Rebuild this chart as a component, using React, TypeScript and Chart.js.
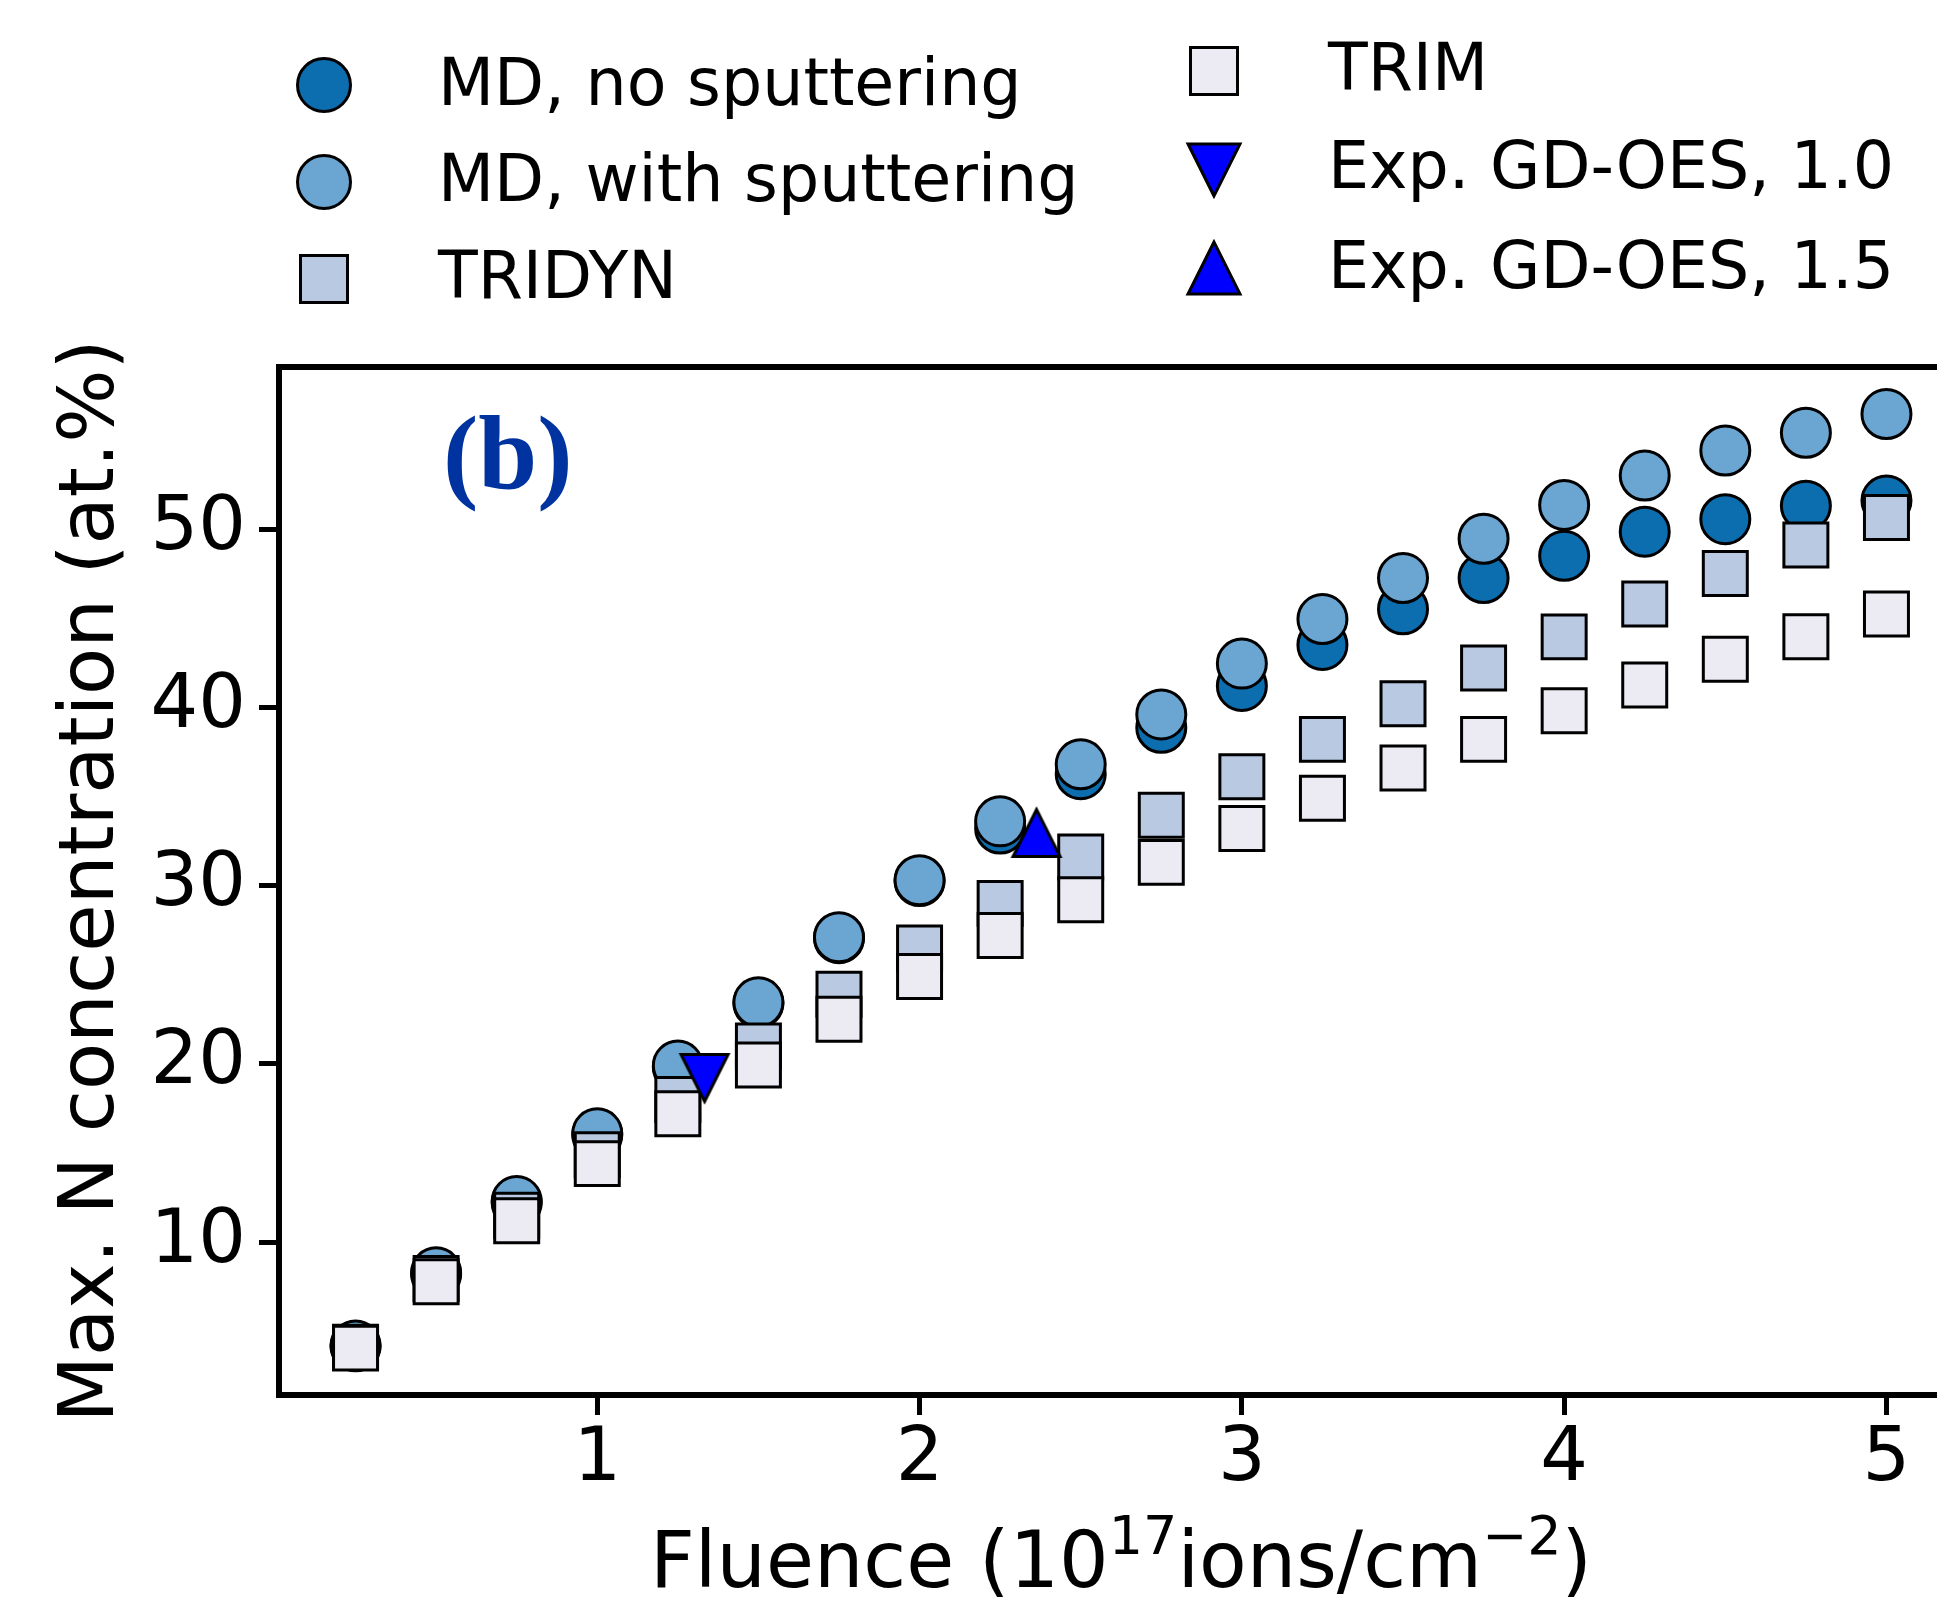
import React, { useEffect, useRef } from 'react';
import { Chart, registerables } from 'chart.js';

Chart.register(...registerables);

// ---------------- data ----------------
const FLUENCE = [0.25, 0.5, 0.75, 1.0, 1.25, 1.5, 1.75, 2.0, 2.25, 2.5, 2.75, 3.0, 3.25, 3.5, 3.75, 4.0, 4.25, 4.5, 4.75, 5.0];
const MD_NO_SPUTTERING = [4.15, 8.2, 12.2, 16.0, 19.8, 23.4, 27.05, 30.25, 33.2, 36.25, 38.85, 41.2, 43.5, 45.5, 47.25, 48.5, 49.85, 50.55, 51.3, 51.6];
const MD_WITH_SPUTTERING = [4.2, 8.3, 12.3, 16.1, 19.9, 23.45, 27.1, 30.3, 33.6, 36.8, 39.6, 42.45, 44.95, 47.25, 49.45, 51.35, 53.0, 54.4, 55.4, 56.45];
const TRIDYN = [4.1, 7.95, 11.5, 14.9, 18.0, 21.0, 23.9, 26.5, 29.0, 31.6, 33.95, 36.1, 38.2, 40.2, 42.2, 43.95, 45.8, 47.5, 49.1, 50.65];
const TRIM = [4.05, 7.77, 11.2, 14.4, 17.2, 19.93, 22.5, 24.9, 27.2, 29.2, 31.3, 33.2, 34.9, 36.6, 38.2, 39.8, 41.25, 42.7, 43.96, 45.23];
const EXP_10_X = [1.333];
const EXP_10_Y = [19.2];
const EXP_15_X = [2.363];
const EXP_15_Y = [32.95];

const X_TICKS = [1, 2, 3, 4, 5];
const Y_TICKS = [10, 20, 30, 40, 50];

const LABELS = [
  'MD, no sputtering',
  'MD, with sputtering',
  'TRIDYN',
  'TRIM',
  'Exp. GD-OES, 1.0',
  'Exp. GD-OES, 1.5',
];
const X_TITLE_PARTS: [string, boolean][] = [
  ['Fluence (10', false],
  ['17', true],
  ['ions/cm', false],
  ['\u22122', true],
  [')', false],
];
const Y_TITLE = 'Max. N concentration (at.%)';
const PANEL_LABEL = '(b)';

// ---------------- styles ----------------
const C_DARK = '#0c6eaf';
const C_LIGHT = '#6ba6d2';
const C_TRIDYN = '#b9c9e2';
const C_TRIM = '#ecebf3';
const C_EXP = '#0000ff';
const FONT = '"DejaVu Sans", "Liberation Sans", sans-serif';

const toPoints = (xs: number[], ys: number[]) => xs.map((x, i) => ({ x, y: ys[i] }));

function makeTriangle(size: number, fill: string, lw: number) {
  const c = document.createElement('canvas');
  const dim = Math.ceil(size + lw * 6);
  c.width = dim % 2 ? dim + 1 : dim;
  c.height = c.width;
  const ctx = c.getContext('2d')!;
  const cx = c.width / 2;
  const h = size / 2;
  ctx.beginPath();
  ctx.moveTo(cx, cx - h);
  ctx.lineTo(cx - h, cx + h);
  ctx.lineTo(cx + h, cx + h);
  ctx.closePath();
  ctx.fillStyle = fill;
  ctx.fill();
  ctx.lineWidth = lw;
  ctx.lineJoin = 'miter';
  ctx.strokeStyle = '#000';
  ctx.stroke();
  return c;
}

function legendMarker(ctx: CanvasRenderingContext2D, kind: string, x: number, y: number, fill: string) {
  ctx.save();
  ctx.fillStyle = fill;
  ctx.strokeStyle = '#000';
  ctx.lineWidth = 3;
  ctx.lineJoin = 'miter';
  ctx.beginPath();
  if (kind === 'circle') {
    ctx.arc(x, y, 26.5, 0, Math.PI * 2);
  } else if (kind === 'rect') {
    ctx.rect(x - 23.5, y - 23.5, 47, 47);
  } else {
    const h = 26;
    const s = kind === 'down' ? -1 : 1;
    ctx.moveTo(x, y - s * h);
    ctx.lineTo(x - h, y + s * h);
    ctx.lineTo(x + h, y + s * h);
    ctx.closePath();
  }
  ctx.fill();
  ctx.stroke();
  ctx.restore();
}

const LEGEND_KINDS = ['circle', 'circle', 'rect', 'rect', 'down', 'up'];
const LEGEND_SLOTS = [
  { mx: 324, my: 85, tx: 438, ty: 105 },
  { mx: 324, my: 182, tx: 438, ty: 201 },
  { mx: 324, my: 279, tx: 438, ty: 298 },
  { mx: 1214, my: 71, tx: 1328, ty: 90 },
  { mx: 1214, my: 170, tx: 1328, ty: 188 },
  { mx: 1214, my: 268, tx: 1328, ty: 288 },
];

const decorPlugin = {
  id: 'decor',
  afterDatasetsDraw(chart: any) {
    const { ctx, chartArea: a } = chart;
    ctx.save();
    ctx.strokeStyle = '#000';
    ctx.lineWidth = 6;
    ctx.strokeRect(a.left, a.top, a.right - a.left, a.bottom - a.top);
    ctx.restore();
  },
  afterDraw(chart: any) {
    const { ctx, chartArea: a } = chart;
    const ds = chart.data.datasets;
    // legend
    ctx.save();
    ctx.font = `65px ${FONT}`;
    ctx.fillStyle = '#000';
    ctx.textAlign = 'left';
    ctx.textBaseline = 'alphabetic';
    ds.forEach((d: any, i: number) => {
      const s = LEGEND_SLOTS[i];
      legendMarker(ctx, LEGEND_KINDS[i], s.mx, s.my, d.backgroundColor);
      ctx.fillStyle = '#000';
      ctx.fillText(d.label, s.tx, s.ty);
    });
    ctx.restore();

    // y title
    ctx.save();
    ctx.font = `77px ${FONT}`;
    ctx.fillStyle = '#000';
    ctx.textAlign = 'center';
    ctx.textBaseline = 'alphabetic';
    ctx.translate(113, (a.top + a.bottom) / 2);
    ctx.rotate(-Math.PI / 2);
    ctx.fillText(Y_TITLE, 0, 0);
    ctx.restore();

    // x title with superscripts
    ctx.save();
    const mainFont = `78px ${FONT}`;
    const supFont = `54px ${FONT}`;
    let total = 0;
    const widths = X_TITLE_PARTS.map(([t, sup]) => {
      ctx.font = sup ? supFont : mainFont;
      const w = ctx.measureText(t).width;
      total += w;
      return w;
    });
    let x = (a.left + a.right) / 2 - total / 2;
    const base = 1587;
    ctx.fillStyle = '#000';
    ctx.textAlign = 'left';
    ctx.textBaseline = 'alphabetic';
    X_TITLE_PARTS.forEach(([t, sup], i) => {
      ctx.font = sup ? supFont : mainFont;
      ctx.fillText(t, x, sup ? base - 33 : base);
      x += widths[i];
    });
    ctx.restore();

    // panel label
    ctx.save();
    ctx.font = `bold 106px "Liberation Serif", "Times New Roman", serif`;
    ctx.fillStyle = '#0033a0';
    ctx.textAlign = 'left';
    ctx.textBaseline = 'alphabetic';
    ctx.fillText(PANEL_LABEL, 443, 489);
    ctx.restore();
  },
};

export default function App() {
  const ref = useRef<HTMLCanvasElement | null>(null);

  useEffect(() => {
    document.body.style.margin = '0';
    document.body.style.overflow = 'hidden';
    const canvas = ref.current!;
    const triUp = makeTriangle(47, C_EXP, 3);

    const circle = { pointStyle: 'circle', pointRadius: 24.5, pointHoverRadius: 24.5, pointBorderWidth: 3, pointBorderColor: '#000' };
    const square = { pointStyle: 'rect', pointRadius: 31.1, pointHoverRadius: 31.1, pointBorderWidth: 3, pointBorderColor: '#000' };

    const chart = new Chart(canvas, {
      type: 'scatter',
      data: {
        datasets: [
          { label: LABELS[0], data: toPoints(FLUENCE, MD_NO_SPUTTERING), backgroundColor: C_DARK, pointBackgroundColor: C_DARK, order: 6, ...circle } as any,
          { label: LABELS[1], data: toPoints(FLUENCE, MD_WITH_SPUTTERING), backgroundColor: C_LIGHT, pointBackgroundColor: C_LIGHT, order: 5, ...circle } as any,
          { label: LABELS[2], data: toPoints(FLUENCE, TRIDYN), backgroundColor: C_TRIDYN, pointBackgroundColor: C_TRIDYN, order: 4, ...square } as any,
          { label: LABELS[3], data: toPoints(FLUENCE, TRIM), backgroundColor: C_TRIM, pointBackgroundColor: C_TRIM, order: 3, ...square } as any,
          { label: LABELS[4], data: toPoints(EXP_10_X, EXP_10_Y), backgroundColor: C_EXP, pointStyle: triUp, pointRotation: 180, pointRadius: 26, order: 2 } as any,
          { label: LABELS[5], data: toPoints(EXP_15_X, EXP_15_Y), backgroundColor: C_EXP, pointStyle: triUp, pointRadius: 26, order: 1 } as any,
        ],
      },
      options: {
        responsive: false,
        animation: false,
        events: [],
        layout: { padding: { left: 0, top: 367, right: 37, bottom: 0 } },
        plugins: { legend: { display: false }, tooltip: { enabled: false } },
        scales: {
          x: {
            type: 'linear',
            min: 0.0125,
            max: 5.2375,
            border: { display: false },
            grid: { drawOnChartArea: false, drawTicks: true, tickLength: 20, tickWidth: 5, tickColor: '#000' },
            ticks: { color: '#000', font: { family: FONT, size: 75 }, padding: 1, autoSkip: false, maxRotation: 0 },
            afterBuildTicks: (axis: any) => { axis.ticks = X_TICKS.map((v) => ({ value: v })); },
            afterFit: (axis: any) => { axis.height = 211; },
          },
          y: {
            type: 'linear',
            min: 1.42,
            max: 59.09,
            border: { display: false },
            grid: { drawOnChartArea: false, drawTicks: true, tickLength: 20, tickWidth: 5, tickColor: '#000' },
            ticks: { color: '#000', font: { family: FONT, size: 75 }, padding: 13, autoSkip: false },
            afterBuildTicks: (axis: any) => { axis.ticks = Y_TICKS.map((v) => ({ value: v })); },
            afterFit: (axis: any) => { axis.width = 279; },
          },
        },
      } as any,
      plugins: [decorPlugin],
    });
    return () => chart.destroy();
  }, []);

  return (
    <div style={{ position: 'fixed', left: 0, top: 0, width: 1937, height: 1606, overflow: 'hidden', background: '#fff' }}>
      <canvas ref={ref} width={2000} height={1606} style={{ display: 'block', width: 2000, height: 1606 }} />
    </div>
  );
}
